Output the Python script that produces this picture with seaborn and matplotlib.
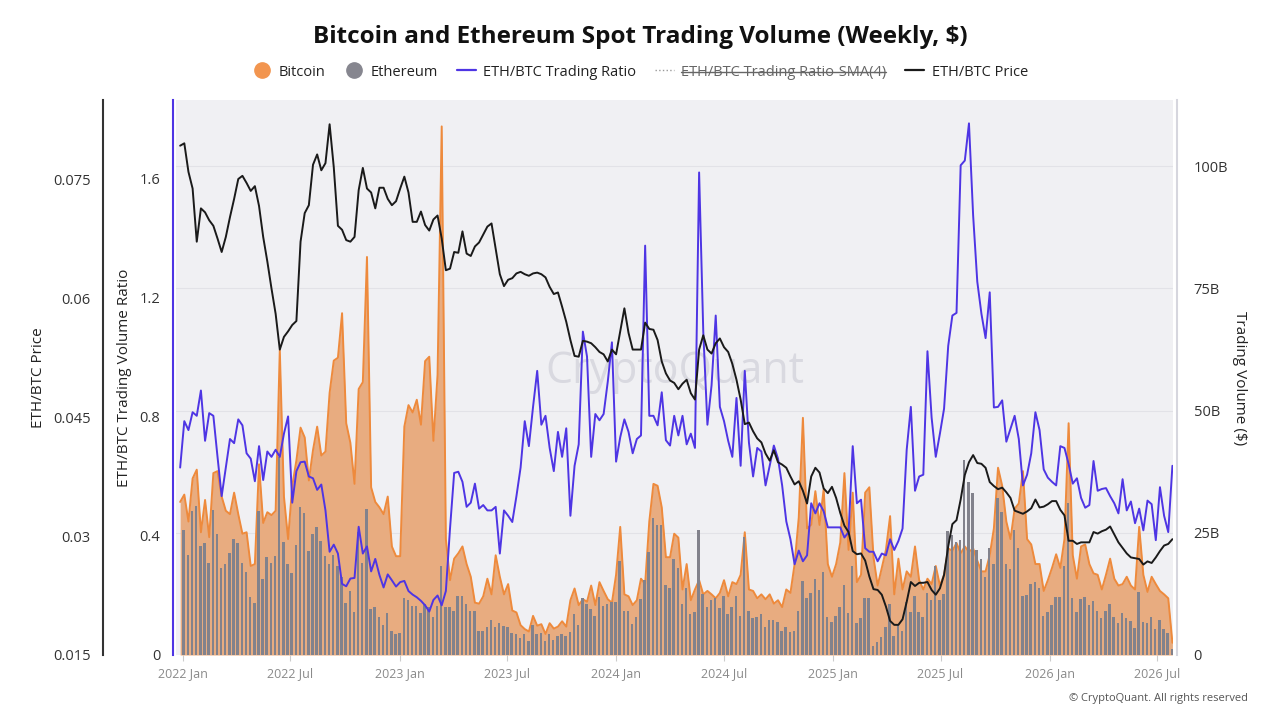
import numpy as np
import pandas as pd
import matplotlib
matplotlib.use("Agg")
import matplotlib.pyplot as plt
import matplotlib.dates as mdates
from matplotlib.lines import Line2D
from matplotlib.ticker import FixedLocator, FixedFormatter
import seaborn as sns

sns.set_theme(style="white")
plt.rcParams['font.family'] = ['Open Sans', 'DejaVu Sans']

# ---------------- data (weekly) ----------------
first_week = "2021-12-27"

# Bitcoin spot trading volume, billions of $
btc_volume_b = [
    31.3, 32.8, 27.3, 36.1, 37.9, 25.1, 31.7, 24.1, 37.2, 37.6,
    32.4, 29.5, 28.8, 33.2, 28.8, 24.8, 25.1, 18.2, 18.6, 39.0,
    27.0, 29.2, 28.6, 29.5, 62.4, 32.4, 23.7, 34.6, 39.8, 46.5,
    44.5, 35.7, 41.9, 46.7, 40.8, 41.6, 53.6, 60.2, 60.8, 69.9,
    47.4,
    43.4, 35.0, 54.4, 55.8, 81.4, 34.3, 31.3, 30.2, 28.8, 32.4,
    22.2, 20.2, 20.2, 46.7, 51.1, 49.6, 52.2, 47.1, 60.1, 61.0,
    43.8, 57.3, 108.1, 23.7, 15.3, 19.7, 20.8, 22.2, 18.6, 16.0,
    10.7, 10.5, 12.0, 15.6, 12.4, 20.4, 16.0, 12.4, 14.5, 9.1,
    8.7, 6.1, 5.3, 4.8, 8.0, 6.0, 6.3, 4.3, 6.5, 5.4,
    5.8, 6.9, 5.8, 11.2, 13.6, 10.2, 11.4, 10.9, 14.2, 10.2,
    14.9, 13.1, 11.4, 10.7, 16.4, 26.2, 12.4, 12.0, 10.2, 11.2,
    15.6, 14.5, 27.3, 35.0, 34.6, 30.2, 20.0, 20.0, 24.8, 24.0,
    13.4,
    18.6, 11.2, 13.4, 15.3, 12.4, 13.1, 12.4, 11.6, 12.7, 15.3,
    12.0, 14.9, 14.5, 16.4, 25.1, 13.4, 13.1, 11.6, 12.4, 11.4,
    12.4, 10.5, 11.2, 9.8, 13.4, 12.7, 18.6, 28.1, 48.5, 25.9,
    26.6, 33.5, 26.6, 33.9, 18.6, 16.0, 18.6, 23.0, 37.2, 21.5,
    33.2,
    14.9, 16.4, 33.2, 34.3, 20.0, 14.2, 17.8, 21.5, 28.4, 12.4,
    19.7, 13.4, 17.1, 16.0, 22.2, 15.3, 13.4, 15.6, 14.5, 18.2,
    14.2, 16.4, 21.8, 21.3, 22.9, 20.8, 22.2, 21.1, 21.8, 19.3,
    17.1, 17.1, 20.4, 25.9, 38.3, 34.6, 27.3, 23.7, 29.9, 31.0,
    37.6,
    23.7, 22.6, 18.6, 18.6, 13.1, 15.3, 17.8, 20.6, 17.8, 23.7,
    47.4, 20.4, 15.6, 22.2, 22.6, 18.6, 16.7, 16.4, 13.4, 16.4,
    19.7, 15.6, 14.2, 14.5, 16.0, 14.2, 13.4, 26.2, 16.4, 12.9,
    16.0, 14.5, 13.1, 12.4, 11.6, 2.5,
]

# Ethereum spot trading volume, billions of $ (bars start one week later)
eth_volume_b = [
    25.5, 20.4, 29.5, 30.5, 22.2, 23.0, 18.9, 29.7, 24.8, 17.8,
    18.6, 20.8, 23.7, 23.0, 18.8, 17.0, 11.8, 10.7, 29.5, 15.6,
    20.0, 18.9, 20.2, 40.5, 23.2, 18.6, 16.7, 22.4, 30.3, 29.0,
    21.3, 24.8, 26.1, 23.3, 20.2, 18.6, 20.4, 18.2, 16.0, 10.7,
    13.1, 8.7, 25.1, 18.9, 29.9, 9.4, 9.8, 7.8, 6.1, 8.5,
    5.0, 4.3, 4.5, 11.6, 11.2, 10.1, 10.1, 8.5, 10.5, 9.9,
    7.8, 10.1, 18.2, 9.8, 9.8, 9.1, 12.0, 12.0, 10.5, 9.1,
    9.1, 5.0, 5.0, 5.8, 7.2, 5.8, 6.5, 5.9, 5.8, 4.5,
    4.3, 3.4, 4.3, 2.9, 6.1, 4.3, 4.5, 2.9, 4.3, 3.1,
    3.9, 4.3, 3.9, 4.7, 8.3, 6.1, 11.6, 10.5, 9.4, 8.0,
    11.8, 10.0, 10.5, 10.9, 10.9, 19.3, 9.1, 8.9, 6.4, 7.8,
    11.5, 15.3, 21.1, 28.0, 26.6, 26.6, 14.4, 13.8, 19.6, 17.8,
    10.5,
    13.8, 8.3, 8.7, 25.5, 12.4, 9.8, 11.2, 11.6, 9.6, 12.0,
    8.3, 9.8, 12.0, 8.0, 24.1, 8.9, 7.6, 7.8, 8.3, 5.8,
    7.2, 7.1, 6.7, 5.0, 5.8, 4.7, 5.0, 8.9, 15.1, 11.6,
    12.7, 15.6, 13.3, 16.9, 7.8, 6.7, 8.0, 9.8, 14.3, 8.5,
    18.2,
    6.5, 7.6, 11.6, 11.6, 1.8, 2.6, 3.6, 5.8, 10.5, 3.9,
    6.1, 5.0, 10.9, 8.7, 12.0, 8.7, 7.7, 12.7, 11.2, 18.2,
    11.2, 12.4, 25.3, 24.6, 23.1, 23.6, 39.8, 35.4, 33.2, 21.5,
    19.7, 16.0, 21.8, 18.6, 32.1, 29.2, 18.6, 17.5, 25.5, 21.8,
    12.0,
    12.2, 14.5, 14.9, 13.8, 8.0, 8.7, 10.2, 11.8, 11.8, 18.2,
    31.1, 11.6, 8.7, 11.4, 11.8, 10.2, 11.1, 9.1, 7.5, 8.9,
    10.5, 7.7, 6.5, 8.5, 7.6, 6.9, 5.6, 12.9, 6.7, 6.5,
    7.7, 5.4, 7.2, 5.3, 4.5, 1.2,
]

# ETH/BTC trading volume ratio
eth_btc_volume_ratio = [
    0.630, 0.786, 0.756, 0.816, 0.804, 0.889, 0.720, 0.813, 0.804, 0.666,
    0.534, 0.630, 0.726, 0.712, 0.792, 0.772, 0.678, 0.660, 0.584, 0.702,
    0.588, 0.684, 0.666, 0.690, 0.666, 0.744, 0.802, 0.512, 0.618, 0.648,
    0.650, 0.600, 0.594, 0.555, 0.573, 0.486, 0.347, 0.371, 0.341, 0.239,
    0.231,
    0.257, 0.259, 0.431, 0.341, 0.365, 0.281, 0.323, 0.269, 0.227, 0.271,
    0.251, 0.230, 0.245, 0.249, 0.215, 0.203, 0.194, 0.182, 0.167, 0.146,
    0.185, 0.200, 0.167, 0.215, 0.425, 0.612, 0.616, 0.582, 0.498, 0.512,
    0.576, 0.492, 0.504, 0.486, 0.486, 0.498, 0.341, 0.486, 0.468, 0.447,
    0.534, 0.630, 0.786, 0.702, 0.834, 0.955, 0.774, 0.804, 0.696, 0.618,
    0.750, 0.666, 0.762, 0.468, 0.636, 0.708, 1.087, 1.003, 0.666, 0.810,
    0.789, 0.810, 0.919, 1.051, 0.650, 0.732, 0.792, 0.750, 0.678, 0.726,
    0.738, 1.376, 0.804, 0.804, 0.772, 0.883, 0.722, 0.704, 0.804, 0.738,
    0.804,
    0.708, 0.744, 0.696, 1.622, 1.087, 0.774, 0.907, 1.141, 0.834, 0.786,
    0.720, 0.666, 0.864, 0.636, 0.955, 0.714, 0.600, 0.696, 0.684, 0.570,
    0.636, 0.704, 0.660, 0.570, 0.449, 0.389, 0.305, 0.351, 0.315, 0.335,
    0.510, 0.476, 0.510, 0.483, 0.429, 0.429, 0.429, 0.429, 0.395, 0.413,
    0.702,
    0.510, 0.522, 0.359, 0.347, 0.347, 0.315, 0.341, 0.335, 0.389, 0.353,
    0.383, 0.425, 0.690, 0.834, 0.552, 0.600, 0.606, 1.021, 0.798, 0.666,
    0.744, 0.828, 1.039, 1.141, 1.150, 1.646, 1.662, 1.787, 1.478, 1.255,
    1.147, 1.065, 1.219, 0.832, 0.834, 0.856, 0.717, 0.760, 0.804, 0.726,
    0.570,
    0.606, 0.678, 0.816, 0.756, 0.624, 0.596, 0.582, 0.570, 0.702, 0.696,
    0.642, 0.576, 0.594, 0.528, 0.495, 0.504, 0.652, 0.552, 0.558, 0.561,
    0.534, 0.510, 0.476, 0.591, 0.486, 0.516, 0.443, 0.492, 0.419, 0.519,
    0.507, 0.386, 0.564, 0.468, 0.413, 0.636,
]

# ETH/BTC price
eth_btc_price = [
    0.0792, 0.0795, 0.0759, 0.0738, 0.0671, 0.0713, 0.0708, 0.0698, 0.0691, 0.0675,
    0.0658, 0.0677, 0.0702, 0.0725, 0.0750, 0.0754, 0.0745, 0.0735, 0.0741, 0.0716,
    0.0677, 0.0646, 0.0612, 0.0580, 0.0535, 0.0551, 0.0558, 0.0566, 0.0571, 0.0671,
    0.0707, 0.0717, 0.0768, 0.0781, 0.0761, 0.0770, 0.0819, 0.0765, 0.0691, 0.0686,
    0.0673,
    0.0671, 0.0677, 0.0736, 0.0764, 0.0738, 0.0733, 0.0713, 0.0739, 0.0739, 0.0725,
    0.0717, 0.0722, 0.0738, 0.0753, 0.0733, 0.0696, 0.0696, 0.0709, 0.0692, 0.0685,
    0.0699, 0.0704, 0.0675, 0.0635, 0.0637, 0.0658, 0.0657, 0.0684, 0.0656, 0.0653,
    0.0665, 0.0670, 0.0680, 0.0690, 0.0694, 0.0662, 0.0630, 0.0615, 0.0623, 0.0625,
    0.0631, 0.0633, 0.0630, 0.0628, 0.0631, 0.0632, 0.0630, 0.0626, 0.0614, 0.0605,
    0.0607, 0.0589, 0.0570, 0.0547, 0.0527, 0.0526, 0.0546, 0.0545, 0.0543, 0.0538,
    0.0532, 0.0529, 0.0520, 0.0535, 0.0529, 0.0558, 0.0587, 0.0556, 0.0535, 0.0535,
    0.0535, 0.0569, 0.0561, 0.0560, 0.0547, 0.0520, 0.0505, 0.0496, 0.0493, 0.0485,
    0.0492,
    0.0497, 0.0480, 0.0472, 0.0535, 0.0553, 0.0535, 0.0530, 0.0543, 0.0549, 0.0538,
    0.0532, 0.0517, 0.0497, 0.0472, 0.0441, 0.0443, 0.0432, 0.0423, 0.0418, 0.0404,
    0.0395, 0.0408, 0.0393, 0.0390, 0.0386, 0.0375, 0.0365, 0.0369, 0.0357, 0.0341,
    0.0375, 0.0386, 0.0380, 0.0360, 0.0354, 0.0362, 0.0348, 0.0329, 0.0313, 0.0305,
    0.0281,
    0.0277, 0.0278, 0.0269, 0.0249, 0.0233, 0.0232, 0.0226, 0.0211, 0.0193, 0.0188,
    0.0188, 0.0195, 0.0217, 0.0242, 0.0237, 0.0241, 0.0241, 0.0242, 0.0232, 0.0226,
    0.0234, 0.0251, 0.0287, 0.0315, 0.0320, 0.0346, 0.0377, 0.0393, 0.0402, 0.0392,
    0.0391, 0.0386, 0.0368, 0.0363, 0.0359, 0.0361, 0.0355, 0.0348, 0.0332, 0.0330,
    0.0328,
    0.0331, 0.0335, 0.0346, 0.0336, 0.0337, 0.0340, 0.0344, 0.0344, 0.0333, 0.0326,
    0.0294, 0.0294, 0.0290, 0.0292, 0.0292, 0.0292, 0.0305, 0.0303, 0.0306, 0.0308,
    0.0312, 0.0302, 0.0292, 0.0285, 0.0278, 0.0273, 0.0272, 0.0271, 0.0264, 0.0268,
    0.0266, 0.0273, 0.0281, 0.0288, 0.0290, 0.0296,
]

ratio_ticks = [0, 0.4, 0.8, 1.2, 1.6]
ratio_tick_labels = ["0", "0.4", "0.8", "1.2", "1.6"]
price_ticks = [0.015, 0.03, 0.045, 0.06, 0.075]
price_tick_labels = ["0.015", "0.03", "0.045", "0.06", "0.075"]
volume_ticks_b = [0, 25, 50, 75, 100]
volume_tick_labels = ["0", "25B", "50B", "75B", "100B"]

# ---------------- frames ----------------
dates = pd.date_range(first_week, periods=len(btc_volume_b), freq="7D")
df = pd.DataFrame({
    "date": dates,
    "btc": np.array(btc_volume_b) * 1e9,
    "ratio": eth_btc_volume_ratio,
    "price": eth_btc_price,
})
eth_df = pd.DataFrame({
    "date": dates[1:] - pd.Timedelta(days=1),
    "eth": np.array(eth_volume_b) * 1e9,
})

# ---------------- colours ----------------
C_BG = "#F0F0F3"
C_BTC_FILL = "#E8AC80"
C_BTC_LINE = "#EE8A3C"
C_ETH = "#82828C"
C_RATIO = "#4E35E4"
C_PRICE = "#1A1A1A"

PX = 72 / 100  # pixels -> points

# ---------------- figure ----------------
W, H = 1280, 720
fig = plt.figure(figsize=(W / 100, H / 100), dpi=100)
L, R, T, B = 176, 1173, 100, 655
ax = fig.add_axes([L / W, 1 - B / H, (R - L) / W, (B - T) / H])
ax.set_facecolor(C_BG)

# volume (right axis)
ax.fill_between(df["date"], 0, df["btc"], color=C_BTC_FILL, lw=0, zorder=1)
sns.lineplot(data=df, x="date", y="btc", ax=ax, color=C_BTC_LINE, lw=1.4, zorder=2)
ax.bar(eth_df["date"], eth_df["eth"], width=4.2, color=C_ETH, zorder=3, linewidth=0)
ax.set_ylim(0, 113.5e9)
ax.set_xlabel("")
ax.set_ylabel("")

ax.set_xlim(pd.Timestamp("2021-12-20"), pd.Timestamp("2026-07-28"))
xt = [pd.Timestamp(f"{y}-{m:02d}-01") for y in range(2022, 2027) for m in (1, 7)]
ax.xaxis.set_major_locator(FixedLocator(mdates.date2num(xt)))
ax.xaxis.set_major_formatter(FixedFormatter([t.strftime("%Y %b") for t in xt]))
ax.tick_params(axis="x", length=4, width=0.8, color="#CCCCCC", pad=5,
               labelsize=9, labelcolor="#8A8A8A", bottom=True)

ax.text(0.5, 0.51, "CryptoQuant", transform=ax.transAxes, ha="center", va="center",
        fontsize=31, color="#D9D9E0", zorder=0.5, fontweight="medium")

# ratio (inner left axis)
ax_r = ax.twinx()
sns.lineplot(data=df, x="date", y="ratio", ax=ax_r, color=C_RATIO, lw=1.4)
ax_r.set_ylim(0, 1.8655)
ax_r.yaxis.tick_left()
ax_r.yaxis.set_major_locator(FixedLocator(ratio_ticks))
ax_r.yaxis.set_major_formatter(FixedFormatter(ratio_tick_labels))
ax_r.tick_params(axis="y", length=0, pad=9, labelsize=10.5, labelcolor="#333333")
for s in ["top", "right", "bottom"]:
    ax_r.spines[s].set_visible(False)
ax_r.spines["left"].set_visible(True)
ax_r.spines["left"].set_position(("outward", 3 * PX))
ax_r.spines["left"].set_color(C_RATIO)
ax_r.spines["left"].set_linewidth(1.5)
ax_r.set_xlabel("")
ax_r.set_ylabel("")

# price (outer left axis)
ax_p = ax.twinx()
sns.lineplot(data=df, x="date", y="price", ax=ax_p, color=C_PRICE, lw=1.4)
ax_p.set_ylim(0.015, 0.08496)
ax_p.yaxis.tick_left()
ax_p.yaxis.set_major_locator(FixedLocator(price_ticks))
ax_p.yaxis.set_major_formatter(FixedFormatter(price_tick_labels))
ax_p.tick_params(axis="y", length=0, pad=9, labelsize=10.5, labelcolor="#333333")
for s in ["top", "right", "bottom"]:
    ax_p.spines[s].set_visible(False)
ax_p.spines["left"].set_visible(True)
ax_p.spines["left"].set_position(("outward", 73 * PX))
ax_p.spines["left"].set_color("#333333")
ax_p.spines["left"].set_linewidth(1.5)
ax_p.set_xlabel("")
ax_p.set_ylabel("")

# volume axis on the right (set after twinx, which moves it left)
ax.yaxis.tick_right()
ax.yaxis.set_major_locator(FixedLocator([v * 1e9 for v in volume_ticks_b]))
ax.yaxis.set_major_formatter(FixedFormatter(volume_tick_labels))
ax.tick_params(axis="y", which="both", left=False, labelleft=False, right=True,
               labelright=True, length=0, pad=12, labelsize=10.5, labelcolor="#333333")
ax.yaxis.grid(True, color="#E2E2E7", lw=0.8)
ax.set_axisbelow(True)
for s in ["top", "left", "bottom"]:
    ax.spines[s].set_visible(False)
ax.spines["right"].set_visible(True)
ax.spines["right"].set_position(("outward", 4 * PX))
ax.spines["right"].set_color("#D6D6DE")
ax.spines["right"].set_linewidth(1.5)

# axis titles
ymid = 1 - 378 / H
fig.text(38 / W, ymid, "ETH/BTC Price", rotation=90, ha="center", va="center",
         fontsize=11, color="#222222")
fig.text(125 / W, ymid, "ETH/BTC Trading Volume Ratio", rotation=90, ha="center",
         va="center", fontsize=11, color="#222222")
fig.text(1240 / W, ymid, "Trading Volume ($)", rotation=270, ha="center",
         va="center", fontsize=11, color="#222222")

# title
fig.text(0.5, 1 - 37 / H, "Bitcoin and Ethereum Spot Trading Volume (Weekly, $)",
         ha="center", va="center", fontsize=17.5, fontweight="bold", color="#111111")

# legend
handles = [
    Line2D([], [], marker="o", ls="none", markersize=11, color="#F2954F"),
    Line2D([], [], marker="o", ls="none", markersize=11, color="#86868F"),
    Line2D([], [], color=C_RATIO, lw=1.6),
    Line2D([], [], color="#999999", lw=1.0, ls=":"),
    Line2D([], [], color=C_PRICE, lw=1.6),
]
labels = ["Bitcoin", "Ethereum", "ETH/BTC Trading Ratio",
          "ETH/BTC Trading Ratio-SMA(4)", "ETH/BTC Price"]
leg = fig.legend(handles, labels, loc="center", bbox_to_anchor=(0.5, 1 - 72 / H),
                 ncol=5, frameon=False, fontsize=10.5, handlelength=1.3,
                 columnspacing=1.3, handletextpad=0.5)
for t in leg.get_texts():
    t.set_color("#222222")
leg.get_texts()[3].set_color("#666666")

fig.text(1248 / W, 1 - 698 / H, "\u00a9 CryptoQuant. All rights reserved",
         ha="right", va="center", fontsize=8, color="#555555")

# strike-through on the disabled legend entry
fig.canvas.draw()
renderer = fig.canvas.get_renderer()
bb = leg.get_texts()[3].get_window_extent(renderer)
ymid_t = (bb.y0 + bb.y1) / 2 / H
fig.add_artist(Line2D([bb.x0 / W, bb.x1 / W], [ymid_t, ymid_t],
                      transform=fig.transFigure, color="#666666", lw=1.0))

fig.savefig("out.png", dpi=100)
